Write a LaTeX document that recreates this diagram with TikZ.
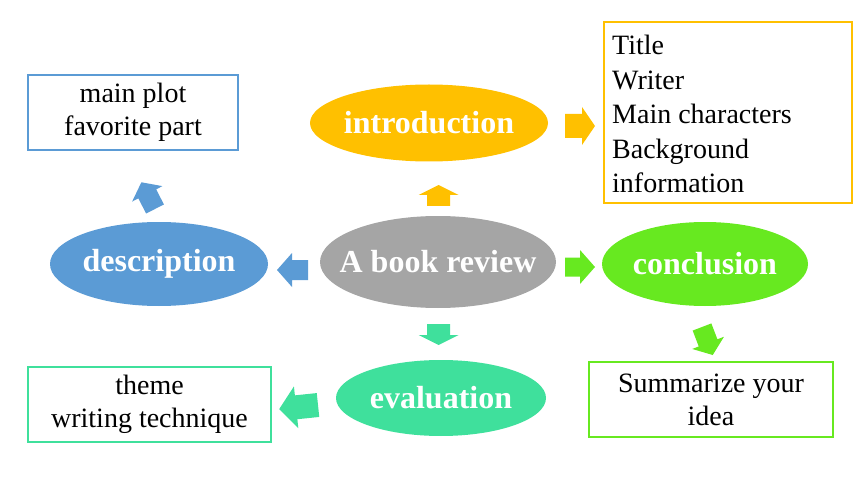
\documentclass[tikz,border=0pt]{standalone}
\usepackage{fontspec}
\setmainfont{Liberation Serif}
\usetikzlibrary{shapes.geometric}
\definecolor{corange}{HTML}{FFC000}
\definecolor{cgray}{HTML}{A5A5A5}
\definecolor{cblue}{HTML}{5B9BD5}
\definecolor{cgreen}{HTML}{67E920}
\definecolor{cteal}{HTML}{3FE09C}
\newcommand\blockarrow[7]{%
  \fill[#7, shift={#1}, rotate=#2]
    (0pt,{-#6*1pt}) -- ({(#3-#4)*1pt},{-#6*1pt}) -- ({(#3-#4)*1pt},{-#5*1pt})
    -- ({#3*1pt},0pt) -- ({(#3-#4)*1pt},{#5*1pt}) -- ({(#3-#4)*1pt},{#6*1pt})
    -- (0pt,{#6*1pt}) -- cycle;}
\newcommand\ovaltext[1]{\makebox[0pt]{#1}}
\tikzset{
  oval/.style={ellipse, fill=#1, draw=none, inner sep=0pt, text=white,
    font=\fontsize{32}{38}\selectfont\bfseries},
  infobox/.style={rectangle, draw=#1, line width=1.6pt, inner sep=0pt,
    font=\fontsize{28}{33}\selectfont, align=center},
}
\begin{document}
\begin{tikzpicture}[x=1pt,y=-1pt]
\useasboundingbox (0,0) rectangle (860,484);
% ellipses
\node[oval=corange, minimum width=238, minimum height=77] (intro) at (429,123) {\ovaltext{introduction}};
\node[oval=cgray, minimum width=236, minimum height=92] (center) at (438,262) {\ovaltext{A book review}};
\node[oval=cblue, minimum width=218, minimum height=84] (desc) at (159,264) {\ovaltext{description}};
\node[oval=cgreen, minimum width=206, minimum height=84] (concl) at (705,264) {\ovaltext{conclusion}};
\node[oval=cteal, minimum width=210, minimum height=76] (eval) at (441,398) {\ovaltext{evaluation}};
% boxes
\node[infobox=cblue, minimum width=210, minimum height=75] (plotbox) at (133,112.5)
  {\fontsize{28}{32}\selectfont main plot\\favorite part};
\node[infobox=corange, minimum width=248, minimum height=181] (titlebox) at (728,112.5) {};
\node[anchor=west, align=left, inner sep=0pt, font=\fontsize{28}{34.5}\selectfont]
  (titletext) at (612,114) {Title\\Writer\\Main characters\\Background\\information};
\node[infobox=cgreen, minimum width=244, minimum height=75] (sumbox) at (711,399.5)
  {\fontsize{28}{32}\selectfont Summarize your\\idea};
\node[infobox=cteal, minimum width=243, minimum height=75] (themebox) at (149.5,404.5)
  {\fontsize{28}{34}\selectfont theme\\writing technique};
% block arrows: pos, angle, length, headlen, headhalf, shafthalf, colour
\blockarrow{(438.5,206)}{90}{21}{10}{20}{11.5}{corange}
\blockarrow{(438.5,324)}{-90}{21}{10}{20}{11.5}{cteal}
\blockarrow{(308,270)}{180}{31}{15}{17}{10}{cblue}
\blockarrow{(565,267)}{0}{30}{15}{17}{9.5}{cgreen}
\blockarrow{(565,126)}{0}{30}{13}{19}{12}{corange}
\blockarrow{(155,209)}{117}{30}{13}{17}{10}{cblue}
\blockarrow{(702,327)}{-69}{30}{13}{17}{10}{cgreen}
\blockarrow{(318,405)}{186}{39}{17}{21}{12}{cteal}
\end{tikzpicture}
\end{document}
